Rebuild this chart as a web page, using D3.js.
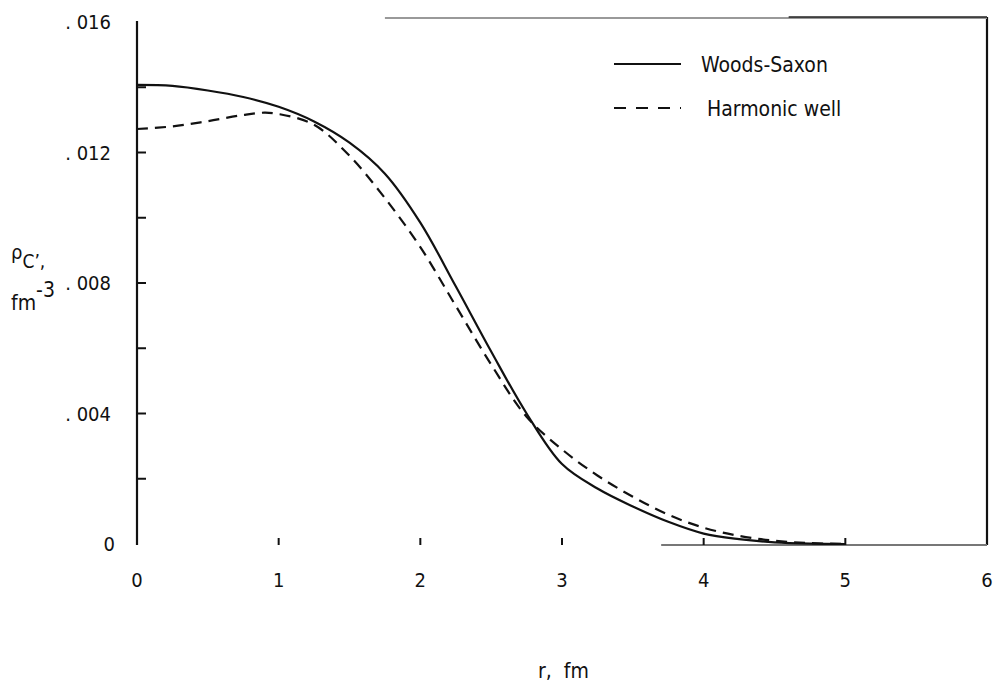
<!DOCTYPE html>
<html><head><meta charset="utf-8">
<script src="https://cdn.jsdelivr.net/npm/d3@7"></script>
<style>
body{margin:0;background:#fff;}
svg{display:block;}
text{font-family:"DejaVu Sans Condensed","Liberation Sans Narrow",sans-serif;fill:#111;white-space:pre;}
</style></head>
<body><svg id="c" width="995" height="684"></svg>
<script>
const rValues = [0,0.25,0.5,0.75,1.0,1.25,1.5,1.75,2.0,2.25,2.5,2.75,3.0,3.25,3.5,3.75,4.0,4.25,4.5,4.75,5.0];
const woodsSaxon = [0.01407,0.01404,0.01390,0.01370,0.01340,0.01295,0.01230,0.01135,0.00985,0.00790,0.00590,0.00400,0.00245,0.00170,0.00115,0.00068,0.00032,0.00015,0.00005,0.00001,0.0];
const harmonicR = [0,0.25,0.5,0.75,0.9,1.0,1.25,1.5,1.75,2.0,2.25,2.5,2.75,3.0,3.25,3.5,3.75,4.0,4.25,4.5,4.75,5.0];
const harmonicWell = [0.01272,0.01280,0.01296,0.01315,0.01322,0.01318,0.01285,0.01190,0.01060,0.00910,0.00730,0.00550,0.00390,0.00290,0.00210,0.00145,0.00090,0.00050,0.00025,0.00010,0.00003,0.0];
const yTicks = [0,0.002,0.004,0.006,0.008,0.010,0.012,0.014,0.016];
const yTickLabels = {0:"0",0.004:". 004",0.008:". 008",0.012:". 012",0.016:". 016"};
const xTicks = [0,1,2,3,4,5,6];
const legendItems = ["Woods-Saxon","Harmonic well"];

const svg = d3.select("#c");
const x = d3.scaleLinear().domain([0,6]).range([137,987]);
const y = d3.scaleLinear().domain([0,0.016]).range([544,22]);

// left axis line
svg.append("line").attr("x1",x(0)).attr("x2",x(0)).attr("y1",y(0.016)-1).attr("y2",y(0)+1)
  .attr("stroke","#111").attr("stroke-width",2.2);
yTicks.forEach(t=>{
  if(t===0||t===0.016) return;
  svg.append("line").attr("x1",x(0)).attr("x2",x(0)+9).attr("y1",y(t)).attr("y2",y(t))
    .attr("stroke","#111").attr("stroke-width",2);
});
yTicks.forEach(t=>{
  const lab = yTickLabels[t];
  if(lab===undefined) return;
  svg.append("text").attr("x",t===0?115:111).attr("y",y(t)).attr("dy","0.36em")
    .attr("text-anchor","end").attr("font-size",20).text(lab);
});
// right border
svg.append("line").attr("x1",x(6)).attr("x2",x(6)).attr("y1",y(0.016)-5).attr("y2",y(0)+1)
  .attr("stroke","#111").attr("stroke-width",2.2);
// top border (partial, grey)
svg.append("line").attr("x1",x(1.75)).attr("x2",x(6)).attr("y1",y(0.016)-4).attr("y2",y(0.016)-4)
  .attr("stroke","#999").attr("stroke-width",2);
svg.append("line").attr("x1",x(4.6)).attr("x2",x(6)).attr("y1",y(0.016)-5).attr("y2",y(0.016)-5)
  .attr("stroke","#222").attr("stroke-width",1.6);
// bottom line (partial, grey)
svg.append("line").attr("x1",x(3.7)).attr("x2",x(6)).attr("y1",y(0)+1).attr("y2",y(0)+1)
  .attr("stroke","#777").attr("stroke-width",2);
xTicks.forEach(t=>{
  if(t===0||t===6) return;
  svg.append("line").attr("x1",x(t)).attr("x2",x(t)).attr("y1",y(0)-6).attr("y2",y(0)+1)
    .attr("stroke","#111").attr("stroke-width",2);
});
xTicks.forEach(t=>{
  svg.append("text").attr("x",x(t)).attr("y",580).attr("dy","0.36em")
    .attr("text-anchor","middle").attr("font-size",20).text(t);
});
// axis titles
svg.append("text").attr("x",538).attr("y",678).attr("font-size",21).text("r,\u00a0\u00a0fm");
const yl = svg.append("text").attr("x",11).attr("y",259).attr("font-size",20);
yl.append("tspan").text("ρ");
yl.append("tspan").attr("dy",9).attr("font-size",19).text("C");
yl.append("tspan").attr("font-size",19).text("’,");
const yl2 = svg.append("text").attr("x",11).attr("y",310).attr("font-size",21);
yl2.append("tspan").text("fm");
yl2.append("tspan").attr("dy",-13).text("-3");

// curves
const line = d3.line().x(d=>x(d[0])).y(d=>y(d[1])).curve(d3.curveCatmullRom.alpha(0.5));
svg.append("path").datum(rValues.map((r,i)=>[r,woodsSaxon[i]]))
  .attr("d",line).attr("fill","none").attr("stroke","#111").attr("stroke-width",2.2);
svg.append("path").datum(harmonicR.map((r,i)=>[r,harmonicWell[i]]))
  .attr("d",line).attr("fill","none").attr("stroke","#111").attr("stroke-width",2.2)
  .attr("stroke-dasharray","11,7");

// legend
const lg = svg.append("g");
legendItems.forEach((name,i)=>{
  const ly = 64 + i*44;
  lg.append("line").attr("x1",614).attr("x2",681).attr("y1",ly).attr("y2",ly)
    .attr("stroke","#111").attr("stroke-width",2.2)
    .attr("stroke-dasharray", i===1 ? "12,10" : null);
  lg.append("text").attr("x",i===0?701:707).attr("y",ly).attr("dy","0.36em")
    .attr("font-size",21).text(name);
});
</script></body></html>
